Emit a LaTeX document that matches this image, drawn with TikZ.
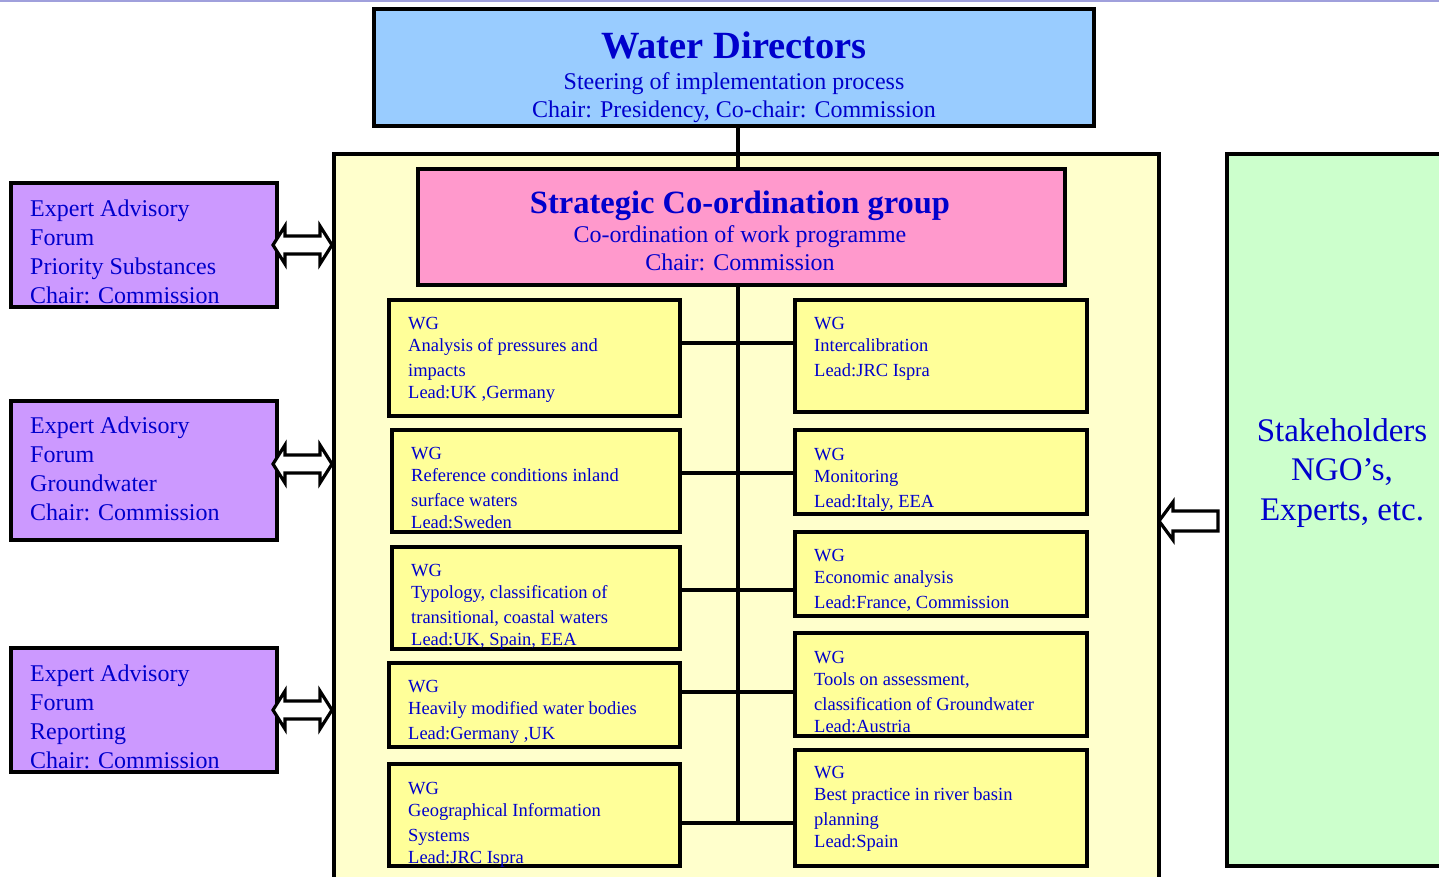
\documentclass[tikz,border=0pt]{standalone}
\usepackage{fontspec}
\setmainfont{Liberation Serif}
\usetikzlibrary{calc}
\definecolor{wdB}{RGB}{153,204,255}
\definecolor{scP}{RGB}{255,153,204}
\definecolor{contY}{RGB}{255,255,204}
\definecolor{wgY}{RGB}{255,255,153}
\definecolor{purp}{RGB}{204,153,255}
\definecolor{grn}{RGB}{204,255,204}
\definecolor{tblue}{RGB}{0,0,204}
\definecolor{lav}{RGB}{160,160,220}
\begin{document}
\begin{tikzpicture}[x=1pt,y=-1pt,
  box/.style={draw=black, line width=3.2pt, anchor=north west, inner sep=0pt, outer sep=0pt},
  wgbox/.style={box, fill=wgY},
  pbox/.style={box, fill=purp},
  wgtext/.style={anchor=base west, inner sep=0pt, text=tblue, font=\fontsize{18.5}{22}\selectfont},
  ptext/.style={anchor=base west, inner sep=0pt, text=tblue, font=\fontsize{24}{29}\selectfont},
  ctext/.style={anchor=base, inner sep=0pt, text=tblue},
  conn/.style={line width=3.2pt},
  barrow/.style={draw=black, line width=3.2pt, fill=white, line join=miter}
]
\useasboundingbox (0,0) rectangle (1439,876);
\clip (0,0) rectangle (1439,876);
\fill[white] (0,0) rectangle (1439,876);
\draw[lav, line width=1.6pt] (0,0.8) -- (1439,0.8);

% main boxes
\node[box, fill=wdB, minimum width=720, minimum height=117] (WD) at (374,9) {};
\node[box, fill=contY, minimum width=825, minimum height=740] (cont) at (334,154) {};
\node[box, fill=scP, minimum width=647, minimum height=116] (SC) at (418,169) {};
\node[box, fill=grn, minimum width=230, minimum height=712] (G) at (1227,154) {};

% WG boxes
\node[wgbox, minimum width=291, minimum height=116] (L1) at (389,300) {};
\node[wgbox, minimum width=288, minimum height=102] (L2) at (392,430) {};
\node[wgbox, minimum width=288, minimum height=102] (L3) at (392,547) {};
\node[wgbox, minimum width=291, minimum height=84]  (L4) at (389,663) {};
\node[wgbox, minimum width=291, minimum height=102] (L5) at (389,764) {};
\node[wgbox, minimum width=292, minimum height=112] (R1) at (795,300) {};
\node[wgbox, minimum width=292, minimum height=84]  (R2) at (795,430) {};
\node[wgbox, minimum width=292, minimum height=84]  (R3) at (795,532) {};
\node[wgbox, minimum width=292, minimum height=103] (R4) at (795,633) {};
\node[wgbox, minimum width=292, minimum height=116] (R5) at (795,750) {};

% purple boxes
\node[pbox, minimum width=266, minimum height=124] (P1) at (11,183) {};
\node[pbox, minimum width=266, minimum height=139] (P2) at (11,401) {};
\node[pbox, minimum width=266, minimum height=124] (P3) at (11,648) {};

% connectors
\coordinate (sp) at (738,0);
\coordinate (y1) at (0,343);
\coordinate (y2) at (0,473);
\coordinate (y3) at (0,590);
\coordinate (y4) at (0,692);
\coordinate (y5) at (0,823);
\draw[conn] (WD.south -| sp) -- (SC.north -| sp);
\draw[conn] (SC.south -| sp) -- (sp |- y5);
\draw[conn] (L1.east |- y1) -- (R1.west |- y1);
\draw[conn] (L2.east |- y2) -- (R2.west |- y2);
\draw[conn] (L3.east |- y3) -- (R3.west |- y3);
\draw[conn] (L4.east |- y4) -- (R4.west |- y4);
\draw[conn] (L5.east |- y5) -- (R5.west |- y5);

% block arrows
\draw[barrow] ($(P1.east)+(-4,0)$) -- ++(12,-19) -- ++(0,10) -- ++(35,0) -- ++(0,-10) -- ++(12,19) -- ++(-12,19) -- ++(0,-10) -- ++(-35,0) -- ++(0,10) -- cycle;
\draw[barrow] ($(P2.east)+(-4,-6.5)$) -- ++(12,-19) -- ++(0,10) -- ++(35,0) -- ++(0,-10) -- ++(12,19) -- ++(-12,19) -- ++(0,-10) -- ++(-35,0) -- ++(0,10) -- cycle;
\draw[barrow] ($(P3.east)+(-4,0)$) -- ++(12,-19) -- ++(0,10) -- ++(35,0) -- ++(0,-10) -- ++(12,19) -- ++(-12,19) -- ++(0,-10) -- ++(-35,0) -- ++(0,10) -- cycle;
\draw[barrow] ($(G.west)+(-68,11)$) -- ++(14,-19) -- ++(0,9) -- ++(45,0) -- ++(0,20) -- ++(-45,0) -- ++(0,9) -- cycle;

% texts: top boxes
\node[ctext, font=\bfseries\fontsize{38.5}{38.5}\selectfont] (WDt) at (734,58) {Water Directors};
\node[ctext, font=\fontsize{24}{28}\selectfont] (WDs) at (734,89) {\begin{tabular}[t]{@{}c@{}}Steering of implementation process\\Chair: Presidency, Co-chair: Commission\end{tabular}};
\node[ctext, font=\bfseries\fontsize{32.5}{32.5}\selectfont] (SCt) at (740,213) {Strategic Co-ordination group};
\node[ctext, font=\fontsize{24}{28.5}\selectfont] (SCs) at (740,242) {\begin{tabular}[t]{@{}c@{}}Co-ordination of work programme\\Chair: Commission\end{tabular}};
\node[ctext, font=\fontsize{33}{39.5}\selectfont] (Gt) at (1342,441) {\begin{tabular}[t]{@{}c@{}}Stakeholders\\NGO’s,\\Experts, etc.\end{tabular}};

% purple texts
\node[ptext] (P1t) at (30,216) {\begin{tabular}[t]{@{}l@{}}Expert Advisory\\Forum\\Priority Substances\\Chair: Commission\end{tabular}};
\node[ptext] (P2t) at (30,433) {\begin{tabular}[t]{@{}l@{}}Expert Advisory\\Forum\\Groundwater\\Chair: Commission\end{tabular}};
\node[ptext] (P3t) at (30,681) {\begin{tabular}[t]{@{}l@{}}Expert Advisory\\Forum\\Reporting\\Chair: Commission\end{tabular}};

% WG texts
\node[wgtext] (L1t) at (408,329) {\begin{tabular}[t]{@{}l@{}}WG\\Analysis of pressures and\\[3pt]impacts\\Lead:UK ,Germany\end{tabular}};
\node[wgtext] (L2t) at (411,459) {\begin{tabular}[t]{@{}l@{}}WG\\Reference conditions inland\\[3pt]surface waters\\Lead:Sweden\end{tabular}};
\node[wgtext] (L3t) at (411,576) {\begin{tabular}[t]{@{}l@{}}WG\\Typology, classification of\\[3pt]transitional, coastal waters\\Lead:UK, Spain, EEA\end{tabular}};
\node[wgtext] (L4t) at (408,692) {\begin{tabular}[t]{@{}l@{}}WG\\Heavily modified water bodies\\[3pt]Lead:Germany ,UK\end{tabular}};
\node[wgtext] (L5t) at (408,794) {\begin{tabular}[t]{@{}l@{}}WG\\Geographical Information\\[3pt]Systems\\Lead:JRC Ispra\end{tabular}};
\node[wgtext] (R1t) at (814,329) {\begin{tabular}[t]{@{}l@{}}WG\\Intercalibration\\[3pt]Lead:JRC Ispra\end{tabular}};
\node[wgtext] (R2t) at (814,460) {\begin{tabular}[t]{@{}l@{}}WG\\Monitoring\\[3pt]Lead:Italy, EEA\end{tabular}};
\node[wgtext] (R3t) at (814,561) {\begin{tabular}[t]{@{}l@{}}WG\\Economic analysis\\[3pt]Lead:France, Commission\end{tabular}};
\node[wgtext] (R4t) at (814,663) {\begin{tabular}[t]{@{}l@{}}WG\\Tools on assessment,\\[3pt]classification of Groundwater\\Lead:Austria\end{tabular}};
\node[wgtext] (R5t) at (814,778) {\begin{tabular}[t]{@{}l@{}}WG\\Best practice in river basin\\[3pt]planning\\Lead:Spain\end{tabular}};
\end{tikzpicture}
\end{document}
